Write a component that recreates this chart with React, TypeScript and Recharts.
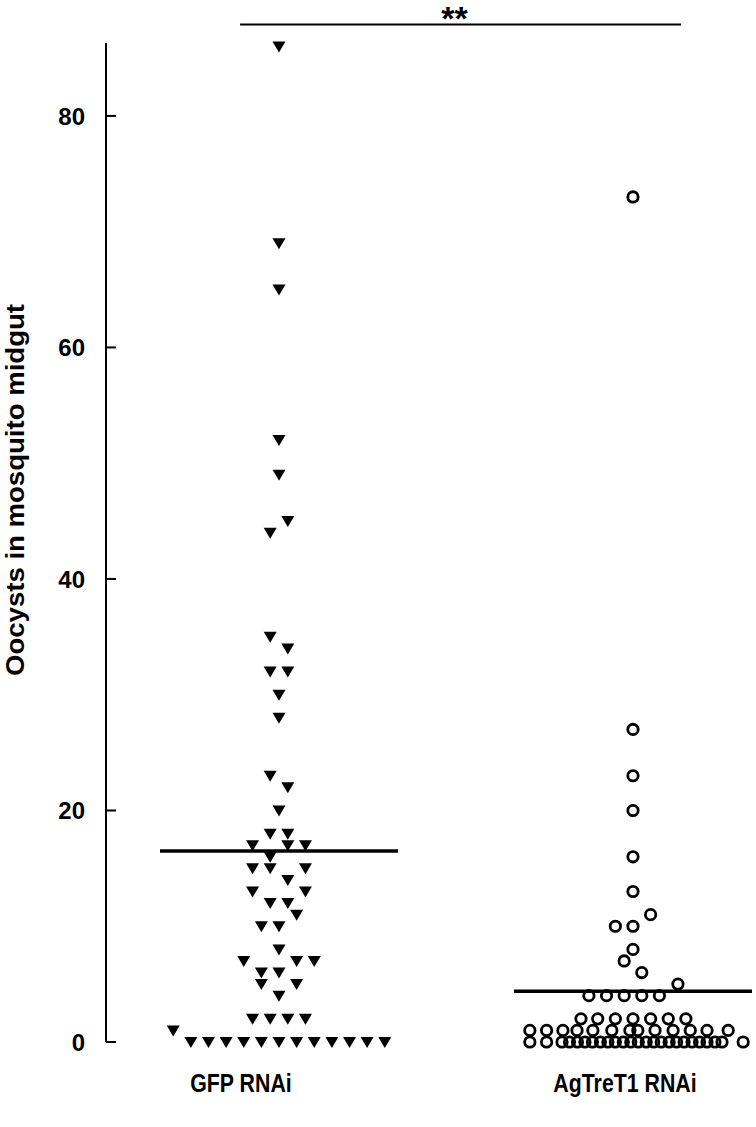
import React from 'react';
import { ScatterChart, Scatter, XAxis, YAxis, ReferenceLine } from 'recharts';

// Oocyst counts per midgut. Each row = [count, lane offsets of the symbols drawn at that count]
// (lanes are the horizontal slots of the dot plot, roughly half a symbol wide)
const gfpRows: [number, number[]][] = [
  [86, [0]],
  [69, [0]],
  [65, [0]],
  [52, [0]],
  [49, [0]],
  [45, [1]],
  [44, [-1]],
  [35, [-1]],
  [34, [1]],
  [32, [-1, 1]],
  [30, [0]],
  [28, [0]],
  [23, [-1]],
  [22, [1]],
  [20, [0]],
  [18, [-1, 1]],
  [17, [-3, 1, 3]],
  [16, [-1]],
  [15, [-3, -1, 3]],
  [14, [1]],
  [13, [-3, 3]],
  [12, [-1, 1]],
  [11, [2]],
  [10, [-2, 0]],
  [8, [0]],
  [7, [-4, 2, 4]],
  [6, [-2, 0]],
  [5, [-2, 2]],
  [4, [0]],
  [2, [-3, -1, 1, 3]],
  [1, [-12]],
  [0, [-10, -8, -6, -4, -2, 0, 2, 4, 6, 8, 10, 12]],
];

const agRows: [number, number[]][] = [
  [73, [0]],
  [27, [0]],
  [23, [0]],
  [20, [0]],
  [16, [0]],
  [13, [0]],
  [11, [2]],
  [10, [-2, 0]],
  [8, [0]],
  [7, [-1]],
  [6, [1]],
  [5, [5.1]],
  [4, [-5, -3, -1, 1, 3]],
  [2, [-5.9, -4, -2, 0, 2, 4, 6]],
  [1, [-11.7, -9.8, -7.95, -6.35, -4.55, -2.4, -0.35, 0.55, 2.5, 4.55, 6.5, 8.4, 10.8]],
  [0, [-11.7, -9.8, -8.05, -7.2, -6.3, -5.45, -4.6, -3.7, -2.85, -2.0, -1.1, -0.25, 0.6,
    1.5, 2.35, 3.2, 4.1, 4.95, 5.8, 6.7, 7.55, 8.4, 9.3, 10.1, 12.5]],
];

const categories = ['GFP RNAi', 'AgTreT1 RNAi'];
const yTicks = [0, 20, 40, 60, 80];
const yLabel = 'Oocysts in mosquito midgut';
const sigText = '**';

// layout
const W = 756;
const H = 1127;
const LANE = 0.0249; // one lane in category units
const MEAN_HALF = 13.5; // mean bar half width, in lanes
const X_DOMAIN = [0.5113, 2.3475];
const Y_DOMAIN = [0, 86.3];
const SIG_Y = 87.9;
const SIG_X = [0.89, 2.136];
const TICK_GAP = 21;
const LABEL_DX = [-38, -8];
const CONDENSE = 0.82; // the original labels use a condensed bold face
const FONT = "'Liberation Sans', Arial, Helvetica, sans-serif";

const toPoints = (rows: [number, number[]][], pos: number) =>
  rows.flatMap(([v, lanes]) => lanes.map((l) => ({ x: pos + l * LANE, y: v })));

const gfpData = toPoints(gfpRows, 1);
const agData = toPoints(agRows, 2);

const mean = (pts: { y: number }[]) => pts.reduce((s, p) => s + p.y, 0) / pts.length;
const gfpMean = mean(gfpData);
const agMean = mean(agData);

const Triangle = (props: any) => {
  const { cx, cy } = props;
  return (
    <polygon
      points={`${cx - 6.5},${cy - 5} ${cx + 6.5},${cy - 5} ${cx},${cy + 6}`}
      fill="#000"
    />
  );
};

const Ring = (props: any) => {
  const { cx, cy } = props;
  return <circle cx={cx} cy={cy} r={5.2} fill="none" stroke="#000" strokeWidth={2.8} />;
};

const YTick = (props: any) => {
  const { x, y, payload } = props;
  return (
    <g>
      <line x1={x + TICK_GAP} x2={x + TICK_GAP + 10} y1={y} y2={y} stroke="#000" strokeWidth={2} />
      <text
        x={x}
        y={y}
        dy="0.36em"
        textAnchor="end"
        fontFamily={FONT}
        fontWeight="bold"
        fontSize={24}
        fill="#000"
      >
        {payload.value}
      </text>
    </g>
  );
};

const XTick = (props: any) => {
  const { x, y, payload } = props;
  const i = Math.round(payload.value) - 1;
  return (
    <g transform={`translate(${x + LABEL_DX[i]},${y}) scale(${CONDENSE},1)`}>
      <text
        x={0}
        y={0}
        dy="0.71em"
        textAnchor="middle"
        fontFamily={FONT}
        fontWeight="bold"
        fontSize={26}
        fill="#000"
      >
        {categories[i]}
      </text>
    </g>
  );
};

const YTitle = () => (
  <text
    x={15}
    y={490}
    transform="rotate(-90 15 490)"
    textAnchor="middle"
    dominantBaseline="central"
    textLength={372}
    lengthAdjust="spacingAndGlyphs"
    fontFamily={FONT}
    fontWeight="bold"
    fontSize={25}
    fill="#000"
  >
    {yLabel}
  </text>
);

const SigLabel = (props: any) => {
  const { viewBox } = props;
  const cx = viewBox.x + viewBox.width / 2 - 6;
  return (
    <text
      x={cx}
      y={viewBox.y + 6}
      textAnchor="middle"
      fontFamily={FONT}
      fontWeight="bold"
      fontSize={34}
      fill="#000"
    >
      {sigText}
    </text>
  );
};

export default function App() {
  return (
    <div style={{ position: 'absolute', left: 0, top: 0, width: W, height: H, background: '#fff' }}>
      <ScatterChart width={W} height={H} margin={{ top: 43, right: 0, bottom: 25, left: 0 }}>
        <XAxis
          type="number"
          dataKey="x"
          domain={X_DOMAIN}
          ticks={[1, 2]}
          axisLine={false}
          tickLine={false}
          tickSize={0}
          tickMargin={32}
          height={60}
          tick={<XTick />}
        />
        <YAxis
          type="number"
          dataKey="y"
          domain={Y_DOMAIN}
          ticks={yTicks}
          width={106}
          axisLine={{ stroke: '#000', strokeWidth: 2 }}
          tickLine={false}
          tickSize={0}
          tickMargin={TICK_GAP}
          tick={<YTick />}
          label={{ content: () => <YTitle /> }}
        />
        <Scatter data={gfpData} shape={Triangle} isAnimationActive={false} />
        <Scatter data={agData} shape={Ring} isAnimationActive={false} />
        <ReferenceLine
          segment={[
            { x: 1 - MEAN_HALF * LANE, y: gfpMean },
            { x: 1 + MEAN_HALF * LANE, y: gfpMean },
          ]}
          stroke="#000"
          strokeWidth={3.5}
          ifOverflow="visible"
        />
        <ReferenceLine
          segment={[
            { x: 2 - MEAN_HALF * LANE, y: agMean },
            { x: 2 + MEAN_HALF * LANE, y: agMean },
          ]}
          stroke="#000"
          strokeWidth={3.5}
          ifOverflow="visible"
        />
        <ReferenceLine
          segment={[
            { x: SIG_X[0], y: SIG_Y },
            { x: SIG_X[1], y: SIG_Y },
          ]}
          stroke="#000"
          strokeWidth={2}
          ifOverflow="visible"
          label={<SigLabel />}
        />
      </ScatterChart>
    </div>
  );
}
